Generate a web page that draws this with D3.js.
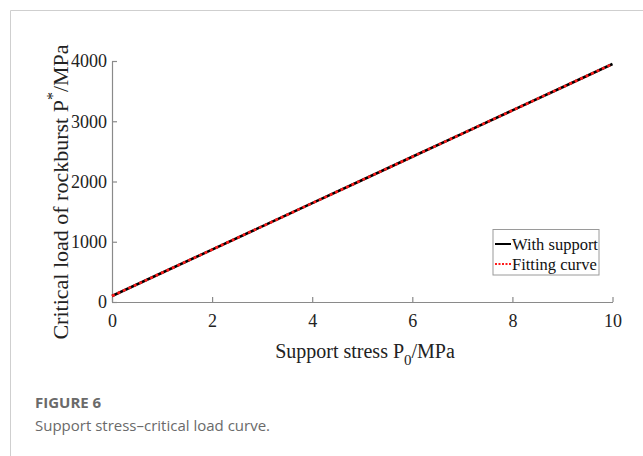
<!DOCTYPE html>
<html>
<head>
<meta charset="utf-8">
<script src="https://cdn.jsdelivr.net/npm/d3@7"></script>
<style>
  html, body { margin: 0; padding: 0; background: #fff; }
  svg { display: block; }
</style>
</head>
<body>
<script>
// Support stress P0 (MPa) and critical rockburst load P* (MPa)
const supportStress = [0, 1, 2, 3, 4, 5, 6, 7, 8, 9, 10];
const withSupport   = [100, 485, 870, 1255, 1640, 2025, 2410, 2795, 3180, 3565, 3950];
const fittingCurve  = [100, 485, 870, 1255, 1640, 2025, 2410, 2795, 3180, 3565, 3950];
const xTicks = [0, 2, 4, 6, 8, 10];
const yTicks = [0, 1000, 2000, 3000, 4000];
const legendLabels = ["With support", "Fitting curve"];

const W = 643, H = 456;
const svg = d3.select("body").append("svg").attr("width", W).attr("height", H);

// card frame
svg.append("path")
  .attr("d", `M10.5,${H} V10.5 H${W}`)
  .attr("fill", "none").attr("stroke", "#cfcfcf").attr("stroke-width", 1);

const x = d3.scaleLinear().domain([0, 10]).range([112, 612.5]);
const y = d3.scaleLinear().domain([0, 4000]).range([302, 61]);

const serif = "Liberation Serif, Times New Roman, serif";
const axisColor = "#8a8a8a";

// axes with inward ticks
const gx = svg.append("g").attr("transform", `translate(0,${y(0)})`)
  .call(d3.axisBottom(x).tickValues(xTicks).tickSizeInner(-5).tickSizeOuter(0).tickPadding(12).tickFormat(d3.format("d")));
const gy = svg.append("g").attr("transform", `translate(${x(0)},0)`)
  .call(d3.axisLeft(y).tickValues(yTicks).tickSizeInner(-5).tickSizeOuter(0).tickPadding(5).tickFormat(d3.format("d")));

[gx, gy].forEach(g => {
  g.attr("font-size", 18).attr("font-family", serif);
  g.select(".domain").attr("stroke", axisColor).attr("stroke-width", 1.2);
  g.selectAll(".tick line").attr("stroke", axisColor).attr("stroke-width", 1.2);
  g.selectAll(".tick text").attr("fill", "#222")
    .style("font-family", serif, "important").style("font-size", "18px", "important");
});
gx.selectAll(".tick text").attr("dy", "0.71em");

// data lines
const pts = (vals) => supportStress.map((s, i) => [s, vals[i]]);
const line = d3.line().x(d => x(d[0])).y(d => y(d[1]));

svg.append("path").datum(pts(withSupport)).attr("d", line)
  .attr("fill", "none").attr("stroke", "#000").attr("stroke-width", 2.6);
svg.append("path").datum(pts(fittingCurve)).attr("d", line)
  .attr("fill", "none").attr("stroke", "#ff1a1a").attr("stroke-width", 2.6)
  .attr("stroke-dasharray", "3,3");

// axis titles
const xt = svg.append("text")
  .attr("x", 365).attr("y", 358).attr("text-anchor", "middle")
  .style("font-family", serif).style("font-size", "20px").attr("fill", "#222");
xt.append("tspan").text("Support stress P");
xt.append("tspan").attr("dy", 7).style("font-size", "15px").text("0");
xt.append("tspan").attr("dy", -7).text("/MPa");

const yt = svg.append("text")
  .attr("transform", "translate(68,192) rotate(-90)")
  .attr("text-anchor", "middle")
  .style("font-family", serif).style("font-size", "22px").attr("fill", "#222");
yt.append("tspan").text("Critical load of rockburst P");
yt.append("tspan").attr("dy", -10).style("font-size", "16px").text("*");
yt.append("tspan").attr("dy", 10).text("/MPa");

// legend
const lg = svg.append("g");
lg.append("rect").attr("x", 493).attr("y", 229.5).attr("width", 106).attr("height", 45.5)
  .attr("fill", "#fff").attr("stroke", "#9a9a9a").attr("stroke-width", 1);
const rows = [
  { label: legendLabels[0], color: "#000", dash: null, cy: 244 },
  { label: legendLabels[1], color: "#ff1a1a", dash: "2,1.5", cy: 264 }
];
rows.forEach(r => {
  lg.append("line").attr("x1", 495).attr("x2", 511).attr("y1", r.cy).attr("y2", r.cy)
    .attr("stroke", r.color).attr("stroke-width", 2).attr("stroke-dasharray", r.dash);
  lg.append("text").attr("x", 512).attr("y", r.cy).attr("dy", "0.35em")
    .style("font-family", serif).style("font-size", "16.5px").attr("fill", "#111").text(r.label);
});

// caption
svg.append("text").attr("x", 35).attr("y", 408)
  .style("font-family", "Open Sans, Noto Sans, sans-serif").style("font-size", "15px")
  .style("font-weight", "700").attr("fill", "#6a6a6a").text("FIGURE 6");
svg.append("text").attr("x", 35).attr("y", 431)
  .style("font-family", "Open Sans, Noto Sans, sans-serif").style("font-size", "15px")
  .attr("fill", "#6a6a6a").text("Support stress\u2013critical load curve.");
</script>
</body>
</html>
